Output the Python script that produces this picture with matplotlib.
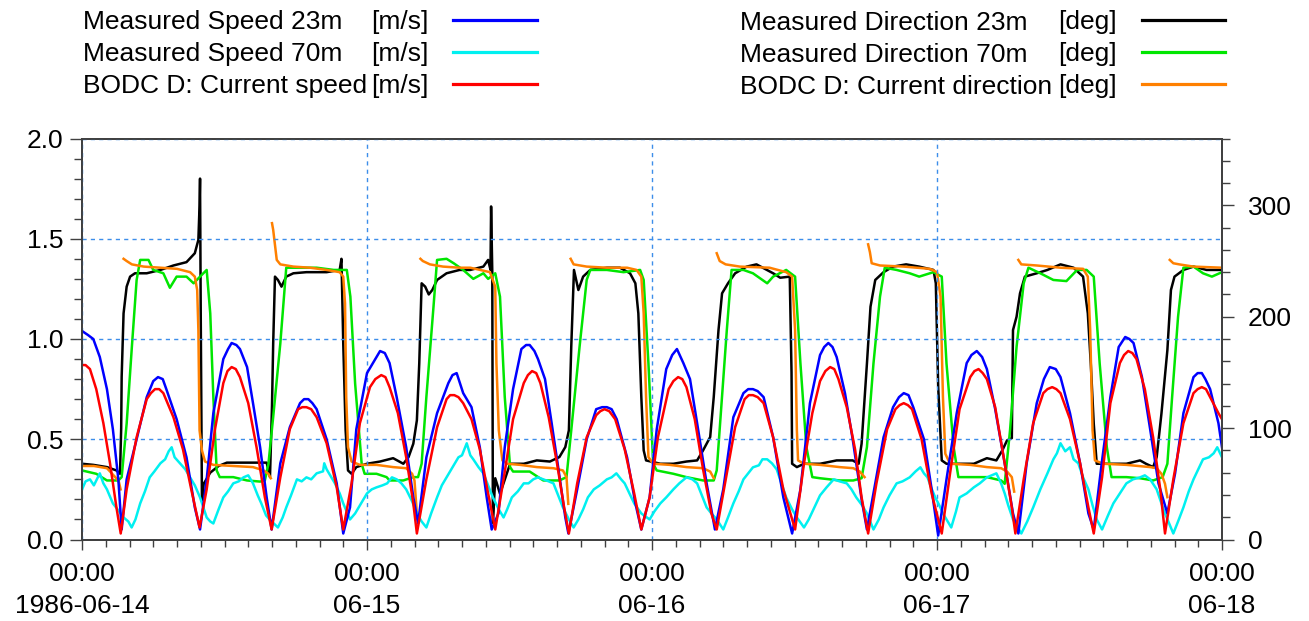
import numpy as np
import matplotlib
matplotlib.use("Agg")
import matplotlib.pyplot as plt
from matplotlib.ticker import MultipleLocator, FixedLocator
from matplotlib.lines import Line2D

# ---------------- data (time in hours since 1986-06-14 00:00) ----------------
t_spd23 = [0, 0.5, 0.95, 1.5, 2.1, 2.6, 3.06, 3.34, 3.76, 4.6, 5.45, 6.0, 6.4, 6.8, 7.1, 7.97, 8.8, 9.5, 9.94,
           10.5, 11.06, 11.9, 12.3, 12.6, 13.0, 13.3, 13.9, 14.4, 15.0, 15.55, 15.97, 16.7, 17.5, 18.36, 18.7, 19.06, 19.4, 19.76,
           20.6, 21.45, 22.0, 22.57, 23.1, 24.0, 24.8, 25.1, 25.5, 25.9, 26.5, 27.3, 27.9, 28.3, 29.0, 29.9, 30.85,
           31.2, 31.55, 32.1, 32.8, 33.5, 34.08, 34.5, 35.07, 35.6, 36.3, 37.0, 37.4, 37.7, 38.1, 38.4, 38.99, 39.55, 40.1,
           40.7, 40.96, 41.7, 42.5, 43.3, 43.8, 44.2, 44.6, 45.03, 45.9, 46.6, 47.1, 47.8, 48.4, 49.2, 49.7, 50.1, 50.64, 51.2,
           51.8, 52.6, 53.3, 54.0, 54.85, 55.7, 56.1, 56.5, 56.9, 57.4, 58.2, 59.06, 59.8, 60.5, 61.3, 62.15, 62.5, 62.85,
           63.2, 63.55, 64.25, 64.9, 65.65, 66.1, 66.8, 67.5, 68.3, 68.8, 69.2, 69.6, 70.0, 70.9, 71.55, 72.1, 72.8, 73.66,
           74.5, 74.9, 75.35, 75.8, 76.2, 76.9, 77.7, 78.4, 78.85, 79.55, 80.4, 81.0, 81.5, 82.0, 82.4, 83.2, 84.05, 84.75, 85.2,
           85.87, 86.6, 87.3, 87.85, 88.2, 88.55, 89.26, 89.95, 90.65, 91.4, 92.05, 92.75, 93.6, 93.95, 94.3, 94.6, 95.0, 95.7, 96]
v_spd23 = [1.04, 1.02, 1.0, 0.91, 0.75, 0.55, 0.30, 0.05, 0.30, 0.50, 0.71, 0.79, 0.81, 0.80, 0.75, 0.60, 0.41, 0.16, 0.05,
           0.30, 0.63, 0.90, 0.95, 0.98, 0.97, 0.95, 0.86, 0.68, 0.46, 0.21, 0.05, 0.38, 0.56, 0.68, 0.70, 0.70, 0.68, 0.65,
           0.50, 0.28, 0.03, 0.16, 0.55, 0.83, 0.91, 0.94, 0.93, 0.88, 0.71, 0.46, 0.21, 0.08, 0.41, 0.63, 0.78,
           0.82, 0.83, 0.73, 0.66, 0.46, 0.21, 0.05, 0.13, 0.46, 0.75, 0.95, 0.97, 0.97, 0.94, 0.90, 0.80, 0.58, 0.36,
           0.11, 0.03, 0.25, 0.50, 0.65, 0.66, 0.66, 0.65, 0.60, 0.41, 0.18, 0.05, 0.21, 0.55, 0.85, 0.92, 0.95, 0.88, 0.80,
           0.58, 0.28, 0.05, 0.25, 0.61, 0.73, 0.75, 0.75, 0.74, 0.71, 0.51, 0.21, 0.03, 0.25, 0.68, 0.92, 0.96, 0.98,
           0.96, 0.91, 0.73, 0.50, 0.20, 0.05, 0.28, 0.51, 0.66, 0.71, 0.73, 0.72, 0.66, 0.50, 0.25, 0.02, 0.30, 0.63,
           0.88, 0.92, 0.94, 0.91, 0.85, 0.65, 0.38, 0.13, 0.03, 0.38, 0.68, 0.80, 0.86, 0.85, 0.81, 0.63, 0.38, 0.13, 0.05,
           0.38, 0.71, 0.96, 1.01, 1.00, 0.98, 0.81, 0.55, 0.28, 0.13, 0.33, 0.63, 0.81, 0.83, 0.83, 0.80, 0.75, 0.58, 0.46]

t_spd70 = [0, 0.3, 0.67, 1.0, 1.5, 1.8, 2.1, 2.6, 3.0, 3.5, 3.9, 4.18, 4.5, 4.9, 5.3, 5.7, 6.1, 6.6, 7.0, 7.3,
           7.55, 7.8, 8.25, 8.7, 9.1, 9.5, 9.94, 10.5, 10.8, 11.06, 11.5, 11.9, 12.3, 12.74, 13.2, 13.6, 14.0,
           14.4, 14.8, 15.1, 15.5, 15.8, 16.5, 16.9, 17.2, 17.6, 18.1, 18.5, 18.9, 19.3, 19.76, 20.3, 20.4,
           20.6, 21.0, 21.3, 21.7, 22.0, 22.57, 23.0, 23.3, 23.7, 24.0, 24.4, 24.8, 25.3, 25.7, 26.1, 26.5,
           26.9, 27.3, 27.8, 28.2, 28.6, 29.0, 29.4, 29.9, 30.3, 30.7, 31.2, 31.7, 32.0, 32.4, 32.7, 32.95,
           33.4, 33.8, 34.2, 34.6, 35.1, 35.5, 35.8, 36.2, 36.7, 37.2, 37.6, 38.0, 38.4, 38.85, 39.3, 39.7,
           40.1, 40.5, 41.0, 41.4, 41.8, 42.2, 42.6, 43.1, 43.6, 44.2, 44.6, 45.0, 45.4, 45.7, 46.1, 46.5,
           47.1, 47.8, 48.2, 48.7, 49.2, 49.8, 50.3, 50.9, 51.4, 51.8, 52.2, 52.6, 53.0, 53.45, 54.0, 54.4,
           54.85, 55.3, 55.7, 56.1, 56.5, 57.0, 57.3, 57.7, 58.1, 58.5, 58.9, 59.3, 59.8, 60.2, 60.8, 61.2,
           61.6, 62.15, 62.7, 63.3, 63.8, 64.4, 64.8, 65.2, 65.7, 66.1, 66.65, 67.1, 67.5, 68.0, 68.6, 69.1,
           69.7, 70.2, 70.6, 70.9, 71.2, 71.5, 71.85, 72.2, 72.5, 73.2, 73.6, 73.9, 74.5, 75.1, 75.6, 76.2,
           76.6, 77.0, 77.4, 77.7, 78.0, 78.4, 79.1, 79.6, 80.1, 80.7, 81.3, 81.8, 82.1, 82.4, 82.8, 83.2,
           83.5, 83.9, 84.3, 84.75, 85.1, 85.45, 85.9, 86.4, 86.85, 87.4, 87.95, 88.5, 89.1, 89.5, 89.95,
           90.5, 90.9, 91.2, 91.9, 92.3, 92.75, 93.2, 93.6, 94.0, 94.4, 94.9, 95.3, 95.6, 96]
v_spd70 = [0.25, 0.29, 0.30, 0.27, 0.33, 0.28, 0.25, 0.18, 0.15, 0.11, 0.09, 0.06, 0.10, 0.18, 0.24, 0.31, 0.34, 0.38, 0.40, 0.44,
           0.46, 0.41, 0.38, 0.35, 0.31, 0.27, 0.21, 0.11, 0.09, 0.08, 0.15, 0.21, 0.24, 0.28, 0.29, 0.31, 0.32,
           0.28, 0.22, 0.18, 0.12, 0.10, 0.06, 0.11, 0.16, 0.22, 0.30, 0.29, 0.31, 0.30, 0.33, 0.34, 0.38,
           0.35, 0.31, 0.28, 0.23, 0.18, 0.10, 0.13, 0.16, 0.20, 0.23, 0.25, 0.26, 0.27, 0.28, 0.31, 0.30,
           0.28, 0.25, 0.19, 0.13, 0.09, 0.06, 0.13, 0.21, 0.27, 0.31, 0.36, 0.41, 0.42, 0.48, 0.42, 0.40,
           0.36, 0.33, 0.27, 0.21, 0.15, 0.11, 0.15, 0.21, 0.24, 0.28, 0.28, 0.30, 0.31, 0.30, 0.29, 0.28,
           0.22, 0.16, 0.10, 0.06, 0.10, 0.15, 0.21, 0.25, 0.27, 0.30, 0.31, 0.33, 0.30, 0.28, 0.23, 0.18,
           0.13, 0.10, 0.14, 0.18, 0.21, 0.25, 0.28, 0.31, 0.30, 0.28, 0.22, 0.16, 0.13, 0.10, 0.05, 0.11,
           0.18, 0.24, 0.30, 0.33, 0.36, 0.37, 0.40, 0.40, 0.38, 0.35, 0.28, 0.21, 0.15, 0.11, 0.06, 0.10,
           0.15, 0.22, 0.26, 0.30, 0.29, 0.28, 0.25, 0.21, 0.17, 0.13, 0.05, 0.10, 0.16, 0.22, 0.28, 0.29,
           0.31, 0.34, 0.36, 0.33, 0.31, 0.26, 0.21, 0.17, 0.13, 0.06, 0.14, 0.21, 0.23, 0.26, 0.28, 0.31,
           0.32, 0.33, 0.28, 0.23, 0.17, 0.10, 0.03, 0.09, 0.16, 0.25, 0.33, 0.40, 0.43, 0.48, 0.44, 0.46,
           0.40, 0.38, 0.31, 0.25, 0.17, 0.10, 0.05, 0.12, 0.18, 0.23, 0.28, 0.30, 0.31, 0.32, 0.30,
           0.25, 0.18, 0.13, 0.03, 0.09, 0.16, 0.24, 0.30, 0.35, 0.40, 0.41, 0.43, 0.46, 0.41]

t_bodc_spd = [0, 0.3, 0.67, 1.2, 1.8, 2.36, 2.9, 3.26, 3.76, 4.6, 5.45, 5.8, 6.15, 6.5, 6.85, 7.7, 8.5, 9.2, 9.9, 10.5, 11.2,
              11.9, 12.25, 12.6, 12.95, 13.3, 14.0, 14.7, 15.4, 15.97, 16.7, 17.5, 18.2, 18.55, 18.9, 19.3, 19.76, 20.6, 21.45, 22.0, 22.7,
              23.4, 24.25, 24.7, 25.2, 25.55, 25.9, 26.6, 27.3, 27.9, 28.2, 29.0, 29.9, 30.7, 31.0, 31.35, 31.7, 32.1, 32.8, 33.5, 34.2,
              34.8, 35.5, 36.3, 37.2, 37.55, 37.9, 38.25, 38.6, 39.3, 40.0, 40.6, 41.0, 41.7, 42.5, 43.3, 43.65, 44.0, 44.4, 44.9, 45.7,
              46.5, 47.1, 47.8, 48.5, 49.4, 49.8, 50.2, 50.55, 50.9, 51.6, 52.3, 53.0, 53.45, 54.15, 55.0, 55.8, 56.15, 56.5, 56.9, 57.4,
              58.2, 59.06, 60.05, 60.8, 61.5, 62.15, 62.6, 63.0, 63.35, 63.7, 64.4, 65.1, 65.65, 66.2, 66.9, 67.8, 68.5,
              68.85, 69.2, 69.55, 69.9, 70.7, 71.55, 72.4, 73.1, 73.9, 74.8, 75.15, 75.5, 75.85, 76.2, 76.9, 77.7, 78.3, 78.6, 79.3, 80.1,
              80.95, 81.3, 81.7, 82.05, 82.4, 83.2, 84.05, 84.75, 85.2, 85.9, 86.6, 87.4, 87.75, 88.1, 88.45, 88.8, 89.5, 90.2, 90.8,
              91.2, 91.9, 92.75, 93.6, 93.95, 94.3, 94.65, 95.0, 95.7, 96]
v_bodc_spd = [0.87, 0.87, 0.85, 0.75, 0.58, 0.38, 0.16, 0.03, 0.25, 0.51, 0.70, 0.73, 0.75, 0.75, 0.73, 0.61, 0.45, 0.25, 0.06, 0.25, 0.55,
              0.78, 0.84, 0.86, 0.85, 0.81, 0.68, 0.46, 0.21, 0.05, 0.31, 0.55, 0.65, 0.66, 0.66, 0.65, 0.61, 0.48, 0.26, 0.05, 0.28,
              0.58, 0.76, 0.80, 0.82, 0.81, 0.76, 0.63, 0.41, 0.18, 0.03, 0.30, 0.56, 0.70, 0.72, 0.72, 0.71, 0.68, 0.60, 0.45, 0.23,
              0.05, 0.30, 0.60, 0.78, 0.82, 0.84, 0.83, 0.78, 0.61, 0.38, 0.16, 0.03, 0.28, 0.51, 0.62, 0.64, 0.65, 0.64, 0.60, 0.45,
              0.23, 0.05, 0.21, 0.51, 0.75, 0.79, 0.81, 0.80, 0.76, 0.60, 0.35, 0.13, 0.05, 0.28, 0.56, 0.70, 0.72, 0.72, 0.71, 0.68,
              0.51, 0.25, 0.05, 0.38, 0.63, 0.79, 0.84, 0.86, 0.85, 0.80, 0.66, 0.45, 0.21, 0.03, 0.28, 0.55, 0.65,
              0.67, 0.68, 0.67, 0.65, 0.50, 0.23, 0.03, 0.33, 0.65, 0.81, 0.84, 0.85, 0.83, 0.80, 0.66, 0.38, 0.16, 0.03, 0.30, 0.58,
              0.73, 0.75, 0.76, 0.75, 0.73, 0.60, 0.38, 0.16, 0.03, 0.31, 0.68, 0.88, 0.92, 0.94, 0.93, 0.90, 0.75, 0.51, 0.25,
              0.03, 0.30, 0.58, 0.73, 0.75, 0.76, 0.75, 0.71, 0.63, 0.60]

t_dir23 = [0, 0.95, 2.1, 2.9, 3.2, 3.3, 3.34, 3.5, 3.76, 4.05, 4.46, 5.45, 6.6, 7.7, 8.8, 9.5, 9.8, 9.9, 9.94,
           10.0, 10.1, 10.25, 10.8, 11.5, 12.2, 15.55, 15.83, 16.0, 16.1, 16.25, 16.5, 16.8, 17.2, 17.8, 18.9,
           20.6, 21.7, 21.85, 22.0, 22.2, 22.4, 22.7, 23.1, 24.0, 25.1, 26.2, 27.06, 27.5, 27.9, 28.2, 28.4,
           28.6, 28.9, 29.2, 29.5, 29.9, 30.7, 31.8, 32.7, 33.8, 34.2, 34.4, 34.45, 34.55, 34.6, 34.7, 34.8,
           35.2, 36.05, 37.2, 38.3, 39.4, 40.2, 40.7, 41.0, 41.2, 41.43, 41.8, 42.2, 42.8, 44.2, 45.3, 46.15,
           46.6, 46.85, 47.1, 47.3, 47.5, 48.7, 49.8, 50.9, 51.8, 52.3, 52.9, 53.2, 53.6, 53.9, 54.4, 55.0,
           55.97, 56.8, 58.2, 58.8, 59.6, 59.75, 59.8, 60.2, 60.8, 62.15, 63.55, 64.9, 65.4, 65.65, 66.1,
           66.4, 66.8, 67.5, 68.3, 69.4, 70.5, 71.7, 71.9, 72.1, 72.4, 72.8, 73.9, 75.1, 76.2, 77.0, 77.5,
           77.9, 78.3, 78.4, 78.7, 78.99, 79.4, 80.4, 81.3, 82.4, 83.5, 84.3, 84.7, 84.95, 85.2, 85.45, 86.6,
           87.95, 89.1, 89.6, 90.2, 90.5, 90.9, 91.4, 91.7, 92.0, 92.75, 93.6, 94.7, 96]
v_dir23 = [68, 67, 65, 62, 59, 100, 146, 203, 227, 236, 239, 239, 242, 246, 249, 257, 269, 300, 324,
           200, 35, 50, 60, 66, 69, 69, 56, 120, 176, 236, 233, 227, 236, 239, 240,
           240, 242, 252, 176, 98, 62, 59, 65, 68, 70, 73, 68, 74, 86, 107, 158,
           230, 227, 220, 224, 233, 239, 242, 242, 245, 251, 242, 299, 240, 15, 35, 55,
           41, 68, 68, 71, 70, 74, 83, 98, 173, 242, 224, 236, 242, 244, 244, 239,
           230, 203, 128, 80, 71, 68, 68, 70, 71, 80, 92, 128, 188, 221, 230, 239,
           245, 247, 239, 235, 236, 150, 68, 65, 68, 68, 71, 71, 68, 86, 158,
           209, 233, 240, 245, 247, 245, 242, 230, 137, 71, 68, 68, 68, 73, 71, 80,
           89, 91, 188, 200, 221, 236, 239, 242, 247, 244, 236, 203, 158, 104, 68, 68,
           68, 71, 68, 65, 74, 113, 170, 224, 236, 242, 245, 242, 242]

t_dir70 = [0, 1.2, 2.1, 3.06, 3.34, 3.76, 4.2, 4.6, 4.9, 5.6, 6.0, 6.85, 7.4, 7.97, 8.8, 9.4, 9.94, 10.5, 10.8,
           11.06, 11.34, 11.6, 12.74, 13.9, 15.0, 15.4, 15.7, 16.1, 16.7, 17.1, 17.2, 18.36, 19.76, 21.2, 22.3,
           22.6, 23.0, 23.55, 23.8, 24.8, 25.65, 25.9, 27.06, 27.9, 28.3, 28.6, 29.0, 29.6, 29.9, 30.7, 31.3,
           32.1, 32.95, 33.8, 34.2, 34.8, 35.2, 35.6, 36.05, 36.3, 37.7, 38.85, 40.2, 40.8, 41.2, 41.9, 42.5,
           42.8, 44.2, 45.6, 47.0, 47.3, 47.7, 48.1, 48.4, 49.8, 50.9, 52.3, 53.2, 53.45, 53.9, 54.3, 54.7,
           55.7, 56.5, 57.7, 58.2, 59.3, 60.05, 60.5, 61.0, 61.5, 62.15, 63.8, 64.95, 65.65, 66.1, 66.65,
           67.2, 67.6, 68.6, 69.7, 70.5, 71.7, 72.4, 72.8, 73.4, 73.8, 74.8, 76.2, 77.4, 77.7, 78.15, 78.7,
           79.3, 79.7, 80.7, 81.8, 82.9, 83.8, 84.6, 85.2, 85.7, 86.3, 86.7, 87.95, 89.1, 90.2, 91.0, 91.4,
           91.8, 92.3, 92.75, 93.6, 94.4, 95.15, 96]
v_dir70 = [62, 59, 53, 53, 56, 104, 173, 233, 251, 251, 242, 239, 226, 236, 236, 230, 236, 242, 203,
           128, 62, 56, 56, 53, 52, 53, 68, 110, 176, 230, 244, 244, 244, 242, 242,
           218, 140, 68, 59, 59, 56, 53, 53, 56, 56, 68, 128, 209, 251, 252, 248,
           242, 234, 239, 234, 239, 218, 128, 65, 61, 61, 53, 53, 56, 98, 173, 233,
           242, 242, 240, 242, 233, 158, 68, 62, 59, 56, 53, 53, 62, 128, 188, 242,
           242, 239, 230, 236, 242, 236, 158, 83, 56, 55, 53, 53, 55, 83, 158,
           218, 244, 242, 239, 236, 240, 236, 158, 83, 56, 56, 56, 53, 50, 98, 173,
           230, 244, 239, 233, 232, 242, 242, 236, 158, 83, 56, 56, 55, 53, 56, 68,
           128, 200, 244, 245, 239, 236, 240]

nan = float('nan')
t_bodc_dir = [0, 1.0, 2.1, 2.8, 3.1, 3.25, 3.4,
              3.5, 3.76, 4.2, 5.2, 6.6, 8.0, 9.1, 9.5, 9.7, 9.8, 9.9, 10.1, 10.36, 11.06, 12.74, 14.4, 15.3,
              15.7, 15.9, 15.95,
              16.0, 16.1, 16.4, 16.7, 17.8, 19.2, 20.6, 21.7, 22.0, 22.15, 22.25, 22.4, 22.7, 23.4, 24.8, 26.2,
              27.3, 27.8, 28.0, 28.2, 28.3,
              28.5, 28.7, 29.3, 30.4, 31.8, 32.7, 34.35, 34.8, 34.9, 35.1, 35.4, 35.8, 36.9, 38.3, 39.7, 40.5,
              40.8, 40.95, 41.0,
              41.15, 41.4, 42.5, 44.2, 45.9, 46.7, 47.1, 47.3, 47.5, 47.7, 48.1, 49.5, 50.9, 52.3, 52.9, 53.2, 53.3,
              53.45, 53.7, 54.2, 55.4, 57.9, 59.3, 59.8, 60.05, 60.2, 60.3, 60.8, 62.15, 63.8, 64.95, 65.5, 65.9, 66.0,
              66.2, 66.35, 66.5, 67.2, 69.2, 71.4, 72.0, 72.3, 72.5, 72.7, 73.1, 74.8, 76.2, 77.4, 77.9, 78.3,
              78.5, 78.6,
              78.85, 79.1, 80.4, 82.4, 84.3, 84.7, 84.9, 85.1, 85.3, 86.0, 87.95, 89.95, 90.5, 90.9, 91.2,
              91.4, 91.5,
              91.6, 91.9, 92.4, 93.6, 96]
v_bodc_dir = [66, 66, 64, 56, 52, 45, nan,
              252, 250, 247, 245, 244, 243, 240, 236, 224, 188, 98, 80, 70, 67, 66, 65, 62,
              59, 55, nan,
              284, 278, 251, 247, 245, 244, 242, 240, 236, 212, 128, 83, 70, 67, 67, 65,
              64, 59, 53, 23, nan,
              252, 250, 247, 245, 244, 244, 240, 227, 158, 98, 71, 68, 67, 65, 64, 62,
              56, 32, nan,
              252, 247, 245, 244, 244, 242, 236, 203, 128, 74, 68, 67, 65, 64, 61, 55, nan,
              257, 250, 247, 245, 244, 240, 236, 188, 98, 71, 68, 67, 65, 64, 61, 56, nan,
              265, 258, 248, 246, 245, 243, 240, 218, 128, 77, 68, 67, 65, 64, 61, 56,
              43, nan,
              251, 247, 246, 244, 243, 236, 188, 98, 71, 68, 67, 65, 64, 59, 50,
              38, nan,
              251, 248, 247, 245, 244]

speed_labels = ["Measured Speed 23m", "Measured Speed 70m", "BODC D: Current speed"]
dir_labels = ["Measured Direction 23m", "Measured Direction 70m", "BODC D: Current direction"]
speed_unit = "[m/s]"
dir_unit = "[deg]"
x_major = [0, 24, 48, 72, 96]
x_labels = ["00:00\n1986-06-14", "00:00\n06-15", "00:00\n06-16", "00:00\n06-17", "00:00\n06-18"]
speed_ticks = [0.0, 0.5, 1.0, 1.5, 2.0]
dir_ticks = [0, 100, 200, 300]

# ---------------- styling ----------------
plt.rcParams['font.family'] = ['Liberation Sans', 'DejaVu Sans']
FS = 19
C_BLUE, C_CYAN, C_RED = '#0000FF', '#00F0F0', '#FF0000'
C_BLACK, C_GREEN, C_ORANGE = '#000000', '#00E600', '#FF8000'
GRID = '#3D8EEA'
SPINE = '#404040'
LW = 1.8

W, H = 1309, 621
fig = plt.figure(figsize=(W / 100, H / 100), dpi=100)
left, right, top, bottom = 82, 1222, 138.5, 539.5
ax = fig.add_axes([left / W, (H - bottom) / H, (right - left) / W, (bottom - top) / H])
ax2 = ax.twinx()
ax.set_zorder(ax2.get_zorder() + 1)
ax.patch.set_visible(False)

# direction (right axis)
ax2.plot(t_dir23, v_dir23, color=C_BLACK, lw=LW)
ax2.plot(t_dir70, v_dir70, color=C_GREEN, lw=LW)
ax2.plot(t_bodc_dir, v_bodc_dir, color=C_ORANGE, lw=LW)
# speed (left axis)
ax.plot(t_spd70, v_spd70, color=C_CYAN, lw=LW)
ax.plot(t_spd23, v_spd23, color=C_BLUE, lw=LW)
ax.plot(t_bodc_spd, v_bodc_spd, color=C_RED, lw=LW)

ax.set_xlim(0, 96)
ax.set_ylim(0, 2.0)
ax2.set_ylim(0, 360)

ax.xaxis.set_major_locator(FixedLocator(x_major))
ax.xaxis.set_minor_locator(MultipleLocator(2))
ax.set_xticklabels(x_labels)
ax.yaxis.set_major_locator(FixedLocator(speed_ticks))
ax.yaxis.set_minor_locator(MultipleLocator(0.1))
ax.set_yticklabels([f"{v:.1f}" for v in speed_ticks])
ax2.yaxis.set_major_locator(FixedLocator(dir_ticks))
ax2.yaxis.set_minor_locator(MultipleLocator(20))
ax2.set_yticklabels([str(v) for v in dir_ticks])

ax.grid(True, which='major', color=GRID, linestyle=(0, (3, 3)), linewidth=1.0)

for a in (ax, ax2):
    for s in a.spines.values():
        s.set_color(SPINE)
        s.set_linewidth(1.3)

ax.tick_params(axis='y', which='major', direction='out', length=8.5, width=1, color=SPINE,
               labelsize=FS, pad=5)
ax.tick_params(axis='y', which='minor', direction='out', length=5.8, width=1, color=SPINE)
ax.tick_params(axis='x', which='major', direction='out', length=7.5, width=1, color=SPINE,
               labelsize=FS, pad=9)
ax.tick_params(axis='x', which='minor', direction='out', length=5.0, width=1, color=SPINE)
ax2.tick_params(axis='y', which='major', direction='out', length=8.5, width=1, color=SPINE,
                labelsize=FS, pad=10)
ax2.tick_params(axis='y', which='minor', direction='out', length=5.8, width=1, color=SPINE)
for lbl in ax.get_xticklabels():
    lbl.set_linespacing(1.38)

# ---------------- legend (manual, two blocks) ----------------
rows_y = [20, 52, 84]
def fy(py):
    return 1 - py / H

for lbl, col, py in zip(speed_labels, [C_BLUE, C_CYAN, C_RED], rows_y):
    fig.text(83 / W, fy(py + 9.5), lbl, fontsize=FS, ha='left', va='baseline')
    fig.text(371 / W, fy(py + 9.5), speed_unit, fontsize=FS, ha='left', va='baseline')
    fig.add_artist(Line2D([453 / W, 537 / W], [fy(py), fy(py)], transform=fig.transFigure,
                          color=col, lw=2.3))
for lbl, col, py in zip(dir_labels, [C_BLACK, C_GREEN, C_ORANGE], rows_y):
    fig.text(740 / W, fy(py + 9.5), lbl, fontsize=FS, ha='left', va='baseline')
    fig.text(1058 / W, fy(py + 9.5), dir_unit, fontsize=FS, ha='left', va='baseline')
    fig.add_artist(Line2D([1142 / W, 1225 / W], [fy(py), fy(py)], transform=fig.transFigure,
                          color=col, lw=2.3))

fig.savefig("out.png", dpi=100)
